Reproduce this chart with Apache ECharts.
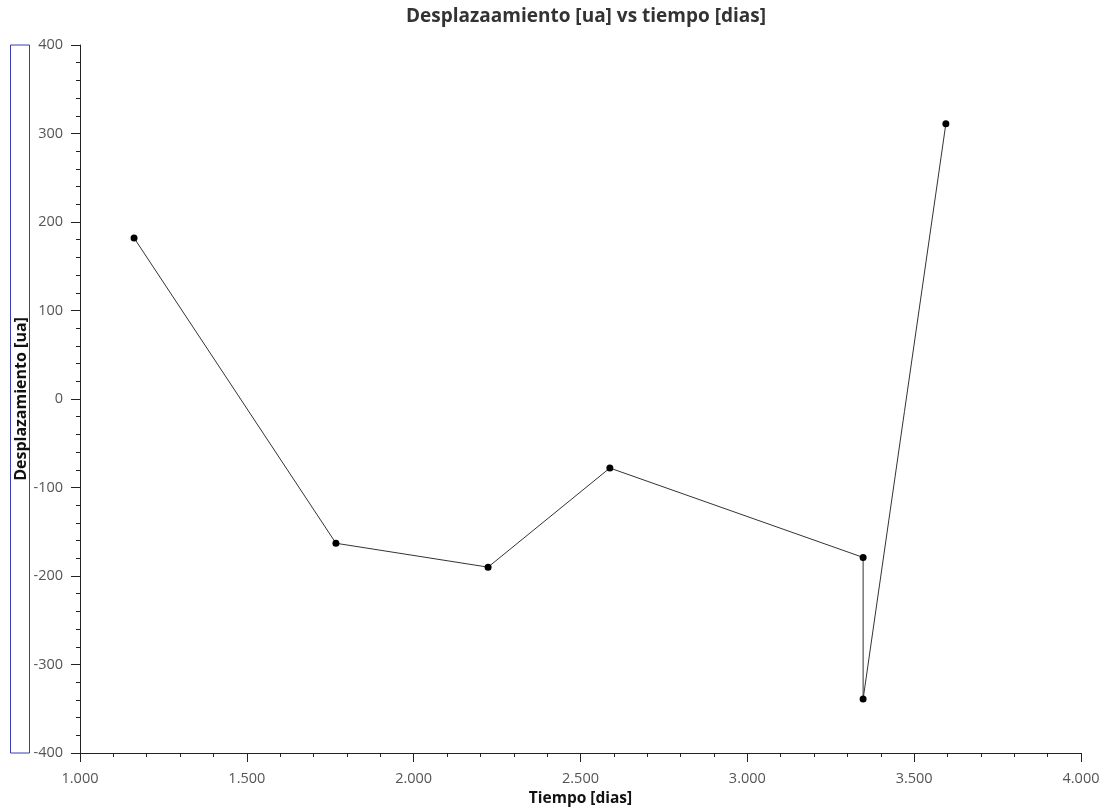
<!DOCTYPE html>
<html><head><meta charset="utf-8">
<script src="https://cdn.jsdelivr.net/npm/echarts@6/dist/echarts.min.js"></script>
<style>html,body{margin:0;padding:0;background:#fff}#c{width:1109px;height:809px}</style>
</head><body><div id="c"></div>
<script>
const titleText = 'Desplazaamiento [ua] vs tiempo [dias]';
const xName = 'Tiempo [dias]';
const yName = 'Desplazamiento [ua]';
const tiempo = [1.162, 1.767, 2.223, 2.588, 3.347, 3.347, 3.595];
const desplazamiento = [182, -163, -190, -78, -179, -339, 311];
const yMin = -400, yMax = 400;

const chart = echarts.init(document.getElementById('c'));
const font = "'Open Sans', 'DejaVu Sans', sans-serif";
chart.setOption({
  animation: false,
  title: { text: titleText, left: 581, textAlign: 'center', top: 2,
    textStyle: { fontFamily: font, fontSize: 19, fontWeight: 'bold', color: '#333' } },
  grid: { left: 80, right: 28, top: 45, bottom: 56, containLabel: false, outerBoundsMode: 'none' },
  xAxis: {
    type: 'value', min: 1, max: 4, interval: 0.5,
    name: xName, nameLocation: 'middle', nameGap: 38, nameMoveOverlap: false,
    nameTextStyle: { fontFamily: font, fontSize: 15.5, fontWeight: 'bold', color: '#111' },
    axisLine: { show: true, onZero: false, lineStyle: { color: '#222', width: 1 } },
    axisTick: { show: true, length: 9, lineStyle: { color: '#222' } },
    minorTick: { show: true, splitNumber: 5, length: 4, lineStyle: { color: '#222' } },
    splitLine: { show: false },
    axisLabel: { fontFamily: font, fontSize: 14.5, color: '#555', margin: 18,
      formatter: v => v.toFixed(3) }
  },
  yAxis: {
    type: 'value', min: yMin, max: yMax, interval: 100,
    name: yName, nameLocation: 'middle', nameGap: 51, nameMoveOverlap: false,
    nameTextStyle: { fontFamily: font, fontSize: 16, fontWeight: 'bold', color: '#111' },
    axisLine: { show: true, onZero: false, lineStyle: { color: '#222', width: 1 } },
    axisTick: { show: true, length: 9, lineStyle: { color: '#222' } },
    minorTick: { show: true, splitNumber: 5, length: 4, lineStyle: { color: '#222' } },
    splitLine: { show: false },
    axisLabel: { fontFamily: font, fontSize: 14.5, color: '#555', margin: 17 }
  },
  series: [{
    type: 'line',
    data: tiempo.map((t, i) => [t, desplazamiento[i]]),
    symbol: 'circle', symbolSize: 7,
    lineStyle: { color: '#333', width: 1 },
    itemStyle: { color: '#000' }
  }]
});
// frame around the y-axis title, spanning the axis extent
const yTop = chart.convertToPixel({ yAxisIndex: 0 }, yMax);
const yBot = chart.convertToPixel({ yAxisIndex: 0 }, yMin);
chart.setOption({
  graphic: [{
    type: 'rect', silent: true, z: 0,
    shape: { x: 10.5, y: yTop, width: 19, height: yBot - yTop },
    style: { fill: 'none', stroke: '#3a3ab4', lineWidth: 1 }
  }]
});
</script></body></html>
